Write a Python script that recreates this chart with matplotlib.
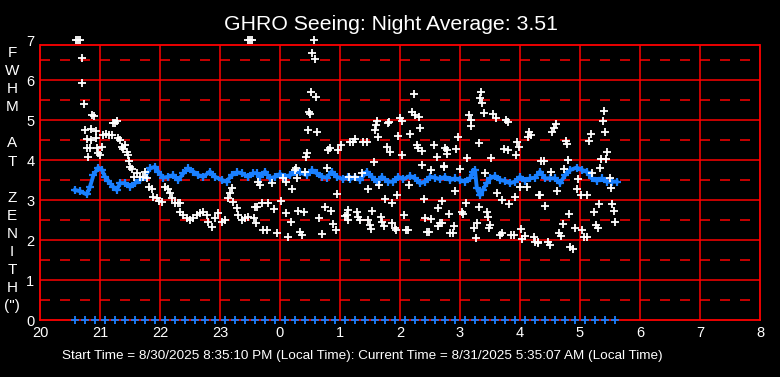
"""
GHRO seeing plot: FWHM at zenith through the night, individual
measurements (white) with the running average (blue) on a red grid.
"""

import matplotlib

matplotlib.use("Agg")
import matplotlib.pyplot as plt

plt.rcParams.update(
    {
        "font.family": ["Liberation Sans", "DejaVu Sans"],
        "lines.scale_dashes": False,
    }
)

# x values are hours after 20:00 local time
hour_labels = ["20", "21", "22", "23", "0", "1", "2", "3", "4", "5", "6", "7", "8"]
fwhm_ticks = [0, 1, 2, 3, 4, 5, 6, 7]
title = "GHRO Seeing: Night Average: 3.51"
footer = ("Start Time = 8/30/2025 8:35:10 PM (Local Time): "
          "Current Time = 8/31/2025 5:35:07 AM (Local Time)")
ylabel_letters = ["F", "W", "H", "M", "", "A", "T", "",
                  "Z", "E", "N", "I", "T", "H", '(")']

# single seeing measurements (values above the top are pinned at 7)
white_hours = [
    0.60, 0.63, 0.67, 3.47, 3.50, 3.53, 4.57,
    0.695, 0.705, 0.74, 0.87, 0.905, 1.22, 1.25, 1.28, 0.75, 0.85, 0.93,
    1.05, 1.10, 1.15, 1.20, 1.305, 1.333, 0.78, 0.845, 0.933, 1.36, 1.417,
    1.38, 0.79, 0.833, 0.955, 1.03, 0.97, 1.00, 0.805, 1.445, 1.47, 1.49,
    1.50, 1.53, 1.61, 1.57, 1.67, 1.72, 1.75, 1.79, 1.82, 1.86, 1.89,
    1.945, 1.98,
    2.03, 2.08, 2.14, 2.17, 2.20, 2.25, 2.30, 2.33, 2.33, 2.39, 2.445, 2.50,
    2.555, 2.61, 2.67, 2.72, 2.78, 2.805, 2.86, 2.92, 2.97, 3.03, 3.08,
    3.13, 3.17, 3.195, 3.22, 3.28, 3.305, 3.37, 3.42, 3.47, 3.58, 3.57,
    4.53, 4.59, 4.52, 4.60, 4.48, 4.505, 4.47, 4.62, 4.445, 4.43, 4.805,
    4.83, 4.97, 5.01, 4.27, 4.25, 4.78, 4.42, 3.64, 3.67, 3.86, 4.055, 4.10,
    4.29, 4.205, 4.955, 4.01, 3.61, 3.695, 3.805, 3.905, 4.10, 4.18, 4.305,
    4.405, 4.655, 4.755, 4.855, 3.60, 3.72, 3.78, 3.95, 4.14, 4.33, 4.36,
    4.695, 4.88, 4.93, 5.08, 5.13,
    6.24, 6.195, 6.25, 6.32, 6.00, 6.03, 5.62, 5.60, 5.58, 5.795, 5.82,
    5.64, 5.97, 6.17, 6.34, 5.17, 5.22, 5.25, 5.38, 5.45, 5.78, 5.83, 6.04,
    6.28, 6.295, 6.36, 6.57, 6.61, 6.75, 5.57, 6.37, 6.52, 6.73, 5.15, 5.25,
    5.36, 5.655, 5.46, 6.155, 5.955, 5.755, 5.86, 6.405, 6.63, 6.705, 5.14,
    5.11, 5.28, 5.305, 5.33, 5.54, 5.47, 5.50, 5.52, 5.68, 5.695, 5.74,
    5.87, 5.92, 5.93, 6.07, 6.10, 6.13, 6.42, 6.51, 6.45, 6.48, 6.63, 6.70,
    7.355, 7.33, 7.37, 7.15, 7.18, 7.405, 7.555, 7.60, 7.77, 7.795, 7.19,
    8.155, 8.18, 8.14, 6.97, 7.32, 7.955, 7.99, 6.78, 6.79, 6.93, 7.74,
    7.805, 7.93, 7.12, 7.52, 6.74, 7.00, 7.42, 8.00, 8.12, 6.92, 7.62, 7.92,
    7.705, 7.10, 7.31, 7.82, 8.31, 6.82, 7.03, 7.055, 7.445, 7.47, 7.29,
    6.905, 7.24, 7.50, 7.49, 6.83, 6.88, 6.67, 7.26, 7.67, 7.70, 7.85, 7.90,
    8.02, 8.08, 8.04, 8.23, 8.30,
    9.405, 9.38, 8.60, 8.57, 8.54, 9.18, 9.42, 8.76, 8.79, 9.155, 9.455,
    8.35, 8.40, 8.805, 9.35, 9.43, 9.34, 8.74, 8.52, 9.205, 9.505, 8.96,
    9.52, 8.945, 8.62, 8.33, 9.01, 9.12, 8.42, 9.32, 9.54, 9.57, 9.24, 8.82,
    9.59, 8.71, 8.92, 9.03, 9.27, 9.30, 8.65, 8.68, 9.07, 9.12, 8.25, 8.30,
    8.47, 8.50, 8.83, 8.88,
]
white_fwhm = [
    7.0, 7.0, 7.0, 7.0, 7.0, 7.0, 7.0,
    6.54, 5.92, 5.39, 5.12, 5.09, 4.92, 4.92, 4.97, 4.75, 4.77, 4.73,
    4.63, 4.65, 4.63, 4.63, 4.56, 4.50, 4.52, 4.49, 4.54, 4.33, 4.38,
    4.27, 4.29, 4.29, 4.29, 4.32, 4.17, 4.12, 4.08, 4.21, 4.12, 3.98,
    3.83, 3.78, 3.67, 3.58, 3.58, 3.58, 3.71, 3.54, 3.33, 3.27, 3.08,
    3.04, 2.98,
    2.96, 3.33, 3.27, 3.17, 3.04, 2.92, 2.92, 2.92, 2.71, 2.62, 2.56, 2.50,
    2.54, 2.62, 2.67, 2.71, 2.62, 2.46, 2.33, 2.54, 2.67, 2.46, 2.50,
    3.04, 3.17, 3.29, 2.96, 2.81, 2.62, 2.50, 2.56, 2.58, 2.83, 2.54,
    6.67, 6.52, 5.71, 5.57, 5.21, 5.14, 4.75, 4.69, 4.17, 4.08, 4.25,
    4.31, 4.25, 4.38, 3.81, 3.75, 3.81, 3.71, 3.46, 3.38, 3.42, 3.54, 3.44,
    3.54, 3.27, 3.14, 2.98, 2.83, 2.92, 2.92, 2.78, 2.67, 2.44, 2.72,
    2.69, 2.54, 2.82, 2.72, 2.43, 2.25, 2.25, 2.17, 2.08, 2.21, 2.12,
    2.15, 2.39, 2.25, 2.60, 2.50,
    5.64, 5.19, 5.12, 5.08, 5.04, 4.98, 4.98, 4.88, 4.75, 4.92, 4.96,
    4.58, 4.60, 4.65, 4.79, 4.46, 4.46, 4.52, 4.46, 4.46, 4.32, 4.19, 4.12,
    4.38, 4.29, 4.22, 4.38, 4.07, 4.29, 3.94, 3.87, 3.74, 3.83, 3.58, 3.58,
    3.67, 3.38, 3.27, 3.38, 3.12, 3.02, 2.92, 3.02, 2.79, 2.98, 2.75,
    2.62, 2.71, 2.58, 2.50, 2.72, 2.50, 2.38, 2.27, 2.58, 2.46, 2.35,
    2.42, 2.31, 2.25, 2.62, 2.25, 2.25, 2.54, 2.52, 2.21, 2.21, 2.35, 2.42,
    5.69, 5.54, 5.42, 5.12, 5.00, 5.17, 5.14, 5.04, 5.00, 4.94, 4.85,
    4.71, 4.62, 4.58, 4.57, 4.42, 4.46, 4.33, 4.24, 4.14, 4.27, 4.27,
    4.24, 4.12, 4.04, 4.04, 3.85, 3.77, 3.68, 3.33, 3.32, 3.23, 3.17, 3.08,
    3.00, 2.93, 2.83, 2.89, 3.12, 2.64, 2.71, 2.64, 2.69, 2.58, 2.43,
    2.35, 2.29, 2.38, 2.29, 2.18, 2.18, 2.42, 2.04, 2.12, 2.17, 2.12, 2.12,
    2.27, 2.11, 2.02, 2.08, 1.92,
    5.22, 4.98, 4.89, 4.79, 4.71, 4.64, 4.69, 4.48, 4.40, 4.48, 4.21,
    3.98, 3.98, 3.99, 4.02, 4.02, 3.79, 3.77, 3.69, 3.68, 3.56, 3.52,
    3.29, 3.27, 3.23, 3.12, 3.12, 3.12, 2.84, 2.89, 2.89, 2.72, 2.69, 2.64,
    2.44, 2.39, 2.31, 2.25, 2.38, 2.31, 2.17, 2.10, 2.08, 2.08, 1.96, 1.96,
    1.96, 1.88, 1.82, 1.78,
]

# running average
avg_hours = [
    0.583, 0.667, 0.78, 0.833, 0.89, 0.97, 1.03, 1.083, 1.14, 1.22, 1.28,
    1.333, 1.417, 1.50, 1.583, 1.667, 1.75, 1.833, 1.917, 1.97, 2.055,
    2.14, 2.22, 2.305, 2.39, 2.47, 2.555, 2.64, 2.72, 2.833, 2.917, 3.03,
    3.11, 3.195, 3.28, 3.36, 3.47, 3.555, 3.61, 3.667, 3.75, 3.833, 3.917,
    4.00, 4.083, 4.167, 4.25, 4.333, 4.445, 4.53, 4.61, 4.695, 4.78, 4.86,
    4.945, 5.055, 5.14, 5.17, 5.25, 5.333, 5.445, 5.53, 5.61, 5.695, 5.805,
    5.89, 5.97, 6.055, 6.167, 6.25, 6.333, 6.417, 6.50, 6.583, 6.667, 6.75,
    6.833, 6.917, 7.00, 7.083, 7.167, 7.22, 7.25, 7.28, 7.333, 7.38, 7.445,
    7.50, 7.583, 7.667, 7.75, 7.833, 7.917, 8.00, 8.083, 8.167, 8.25,
    8.333, 8.417, 8.50, 8.583, 8.667, 8.75, 8.833, 8.945, 9.03, 9.11,
    9.195, 9.28, 9.36, 9.445, 9.53, 9.61,
]
avg_fwhm = [
    3.25, 3.22, 3.14, 3.33, 3.62, 3.81, 3.76, 3.58, 3.47, 3.33, 3.25,
    3.42, 3.42, 3.33, 3.42, 3.50, 3.58, 3.79, 3.83, 3.71, 3.56,
    3.58, 3.62, 3.50, 3.67, 3.79, 3.71, 3.62, 3.58, 3.71, 3.58, 3.50,
    3.46, 3.62, 3.69, 3.67, 3.58, 3.67, 3.67, 3.58, 3.71, 3.54, 3.58,
    3.65, 3.58, 3.62, 3.71, 3.69, 3.62, 3.75, 3.67, 3.58, 3.56, 3.71,
    3.58, 3.52, 3.58, 3.52, 3.58, 3.50, 3.71, 3.58, 3.46, 3.58, 3.46,
    3.46, 3.58, 3.52, 3.60, 3.54, 3.42, 3.46, 3.58, 3.56, 3.52, 3.58,
    3.50, 3.54, 3.50, 3.46, 3.54, 3.71, 3.75, 3.30, 3.12, 3.25, 3.42,
    3.54, 3.60, 3.50, 3.48, 3.42, 3.46, 3.58, 3.48, 3.54, 3.56,
    3.71, 3.54, 3.54, 3.54, 3.42, 3.62, 3.75, 3.81, 3.75, 3.71,
    3.54, 3.48, 3.54, 3.46, 3.46, 3.46,
]

# ten-minute markers along the zero line (minutes after 20:00)
marker_minutes = [
    35, 45, 55, 65, 75, 85, 95, 105, 115, 125, 135, 145, 155, 165, 175,
    185, 195, 205, 215, 225, 235, 245, 255, 265, 275, 285, 295, 305, 315,
    325, 335, 345, 355, 365, 375, 385, 395, 405, 415, 425, 435, 445, 455,
    465, 475, 485, 495, 505, 515, 525, 535, 545, 555, 565, 575,
]
marker_zero = [0] * len(marker_minutes)

RED = "#ff0000"
BLUE = "#1a80ff"
FRAME_TOP = 6.875  # the red frame stops a little below the "7" label


def make_figure():
    W, H = 780, 377
    fig = plt.figure(figsize=(W / 100, H / 100), dpi=100, facecolor="black")
    ax = fig.add_axes([40 / W, 1 - 320 / H, 720 / W, 280 / H])
    ax.set_facecolor("black")

    n_hours = len(hour_labels) - 1
    ax.set_xlim(0, n_hours)
    ax.set_ylim(0, 7)

    # grid
    grid_kw = dict(color=RED, lw=1.1, zorder=1)
    ax.hlines(fwhm_ticks[1:-1], 0, n_hours, **grid_kw)
    ax.hlines([v + 0.5 for v in fwhm_ticks[:-1]], 0, n_hours,
              linestyles=[(0, (7.2, 7.2))], **grid_kw)
    ax.vlines(range(1, n_hours), 0, FRAME_TOP, **grid_kw)
    ax.hlines(FRAME_TOP, 0, n_hours, color=RED, lw=1.3, zorder=1)
    for side in ("left", "right", "bottom"):
        ax.spines[side].set_color(RED)
        ax.spines[side].set_linewidth(1.3)
        ax.spines[side].set_bounds(0, FRAME_TOP if side != "bottom" else n_hours)
    ax.spines["top"].set_visible(False)

    # data
    ax.plot(avg_hours, avg_fwhm, color=BLUE, lw=2.8, marker="+", ms=6,
            mew=1.6, zorder=3)
    ax.plot([m / 60 for m in marker_minutes], marker_zero, ls="none",
            color=BLUE, marker="+", ms=6, mew=1.3, zorder=4, clip_on=False)
    ax.plot(white_hours, white_fwhm, ls="none", color="white", marker="+",
            ms=5.5, mew=1.3, zorder=5, clip_on=False)

    # ticks
    ax.set_xticks(range(len(hour_labels)))
    ax.set_xticklabels(hour_labels)
    ax.set_yticks(fwhm_ticks)
    ax.tick_params(length=0, colors="white", labelsize=10.5)
    ax.tick_params(axis="x", pad=4)
    ax.tick_params(axis="y", pad=4)

    fig.text(391 / W, 1 - 30 / H, title, color="white", fontsize=15.3,
             ha="center", va="baseline")
    fig.text(362 / W, 1 - 359 / H, footer, color="white", fontsize=9.7,
             ha="center", va="baseline")
    for i, letter in enumerate(ylabel_letters):
        if letter:
            fig.text(12 / W, 1 - (53 + i * 18.1) / H, letter, color="white",
                     fontsize=11, ha="center", va="center")

    fig.savefig("out.png", dpi=100, facecolor="black")
    plt.close(fig)


if __name__ == "__main__":
    make_figure()
